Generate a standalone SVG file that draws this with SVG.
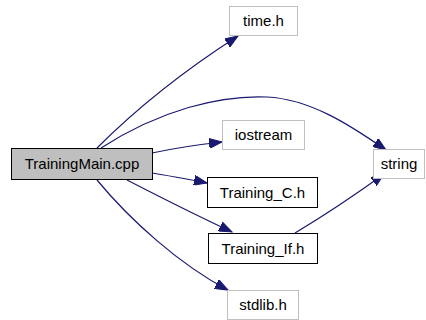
<svg xmlns="http://www.w3.org/2000/svg" width="426" height="320" viewBox="0 0 426 320">
  <style>
    .lbl { font-family: "Liberation Sans", Arial, sans-serif; font-size: 15px; fill: #000; text-anchor: middle; }
    .ext { fill: #fff; stroke: #bfbfbf; stroke-width: 1; }
    .loc { fill: #fff; stroke: #000; stroke-width: 1; }
    .cur { fill: #bfbfbf; stroke: #000; stroke-width: 1; }
    .edge { fill: none; stroke: #191970; stroke-width: 1.2; marker-end: url(#arrow); }
  </style>
  <defs>
    <marker id="arrow" markerUnits="userSpaceOnUse" markerWidth="14" markerHeight="10" refX="13" refY="5" orient="auto">
      <path d="M0,0 L13,5 L0,10 z" fill="#191970" stroke="#191970" stroke-width="1"/>
    </marker>
  </defs>
  <rect width="426" height="320" fill="#fff"/>

  <g id="edges">
    <path class="edge" d="M97,148 C135,110 185,70 238,36"/>
    <path class="edge" d="M101,148 C160,110 220,95 267,97 C310,99 350,125 386,150"/>
    <path class="edge" d="M152,153 C175,148 195,145 222,142"/>
    <path class="edge" d="M152,173 C170,176 188,179 207,183"/>
    <path class="edge" d="M127,180 C160,197 200,217 232,232"/>
    <path class="edge" d="M97,180 C130,220 180,265 228,290"/>
    <path class="edge" d="M295,233 C325,215 355,195 384,174"/>
  </g>

  <g id="node-main">
    <rect class="cur" x="11.5" y="148.5" width="141" height="31"/>
    <text class="lbl" x="82" y="169">TrainingMain.cpp</text>
  </g>
  <g id="node-time">
    <rect class="ext" x="229.5" y="6.5" width="68" height="29"/>
    <text class="lbl" x="263.5" y="26">time.h</text>
  </g>
  <g id="node-iostream">
    <rect class="ext" x="222.5" y="120.5" width="82" height="29"/>
    <text class="lbl" x="263.5" y="140">iostream</text>
  </g>
  <g id="node-training-c">
    <rect class="loc" x="207.5" y="177.5" width="110" height="30"/>
    <text class="lbl" x="262.5" y="198">Training_C.h</text>
  </g>
  <g id="node-training-if">
    <rect class="loc" x="208.5" y="233.5" width="109" height="30"/>
    <text class="lbl" x="263" y="254">Training_If.h</text>
  </g>
  <g id="node-stdlib">
    <rect class="ext" x="227.5" y="290.5" width="71" height="29"/>
    <text class="lbl" x="263" y="310">stdlib.h</text>
  </g>
  <g id="node-string">
    <rect class="ext" x="373.5" y="149.5" width="51" height="29"/>
    <text class="lbl" x="399" y="169">string</text>
  </g>
</svg>
